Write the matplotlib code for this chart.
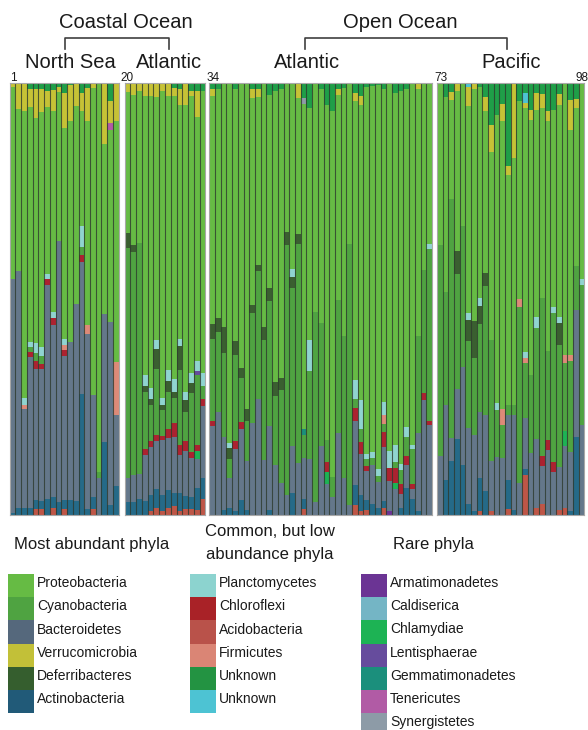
import matplotlib
matplotlib.use("Agg")
import matplotlib.pyplot as plt
import numpy as np
from matplotlib.patches import Rectangle
from matplotlib.lines import Line2D

plt.rcParams['font.family'] = ['Liberation Sans', 'DejaVu Sans']

# relative abundance (%) per sample
# samples 1-19 North Sea, 20-33 coastal Atlantic, 34-72 open Atlantic, 73-98 Pacific
acido = [0, 0, 0, 0, 1.3, 1.3, 0, 1.5, 0, 1.3, 0, 0, 0, 0, 1.4, 0, 0, 0, 0,
         0, 0, 0, 0, 0.9, 1.5, 0.9, 1.5, 1.9, 0.9, 1.4, 1.4, 1.2, 3.7,
         0, 0, 0, 0, 0, 0, 0, 0, 0, 0, 0, 0, 0, 0, 0, 0, 1.4, 0, 0, 0,
         0, 0, 0, 0, 0, 2.2, 0.9, 1.2, 0, 0, 1.5, 0, 0, 0, 0, 0, 0, 0, 0,
         0, 0, 0, 0, 0, 0, 0, 0.9, 0, 0.9, 0, 0, 1.4, 0, 0, 9.3, 0, 1.5, 2.5, 0,
         0, 1.2, 1.5, 0, 0, 0]
actino = [0.5, 1.5, 1.5, 1.5, 2, 1.8, 3.7, 2.7, 2.9, 2.2, 3.5, 3.2, 27.9, 1.4, 2.8, 0, 16.8, 2.3, 6.6,
          2.9, 2.9, 3.7, 3.1, 3.7, 4.5, 3.7, 4.2, 3.1, 4.1, 2.9, 2.6, 4.9, 4.8,
          0, 0, 1.2, 1.5, 0.9, 3.5, 1.2, 0, 0, 0, 1.2, 0, 0, 0, 5, 0, 2.3, 0, 0, 0,
          0, 0, 0, 0, 0, 4.6, 3.7, 2.1, 2.5, 1.5, 1.7, 0, 0, 1.5, 6.3, 3.7, 0.9, 0, 0,
          0, 8.1, 12.4, 17.6, 11.4, 2.5, 0.9, 7.6, 5.6, 0, 0, 0, 6.7, 1.2, 0, 1.4, 0, 0, 0, 0,
          0, 0, 0, 0.9, 17.9, 0]
bacteroidetes = [54, 55, 23, 35, 30.5, 30.6, 49.6, 39.8, 60.4, 33.3, 36.4, 45.5, 30.6, 40.4, 23.5, 8.5, 29.6, 42.3, 16.4,
                 5.7, 6.2, 5.7, 10.7, 11, 11.1, 12.7, 12, 13.1, 8.9, 10.4, 9.1, 6.7, 16.6,
                 20.5, 23.9, 16.8, 6.9, 14.4, 16.4, 11.2, 21.2, 26.9, 12.7, 19.3, 11.4, 7.3, 4.6, 10.8, 12, 9.4, 13, 2.9, 15.8,
                 7.1, 4.2, 18.9, 8.6, 2.2, 15, 9.4, 6.8, 9.1, 6, 12.4, 6.8, 6, 3.2, 5.1, 2.3, 18, 26.6, 20.7,
                 13.5, 17.2, 5.3, 11.6, 22.7, 17.5, 17.5, 15.4, 17.6, 11.6, 13.3, 13.1, 15.1, 21.8, 7.3, 11.7, 14.3, 16.1, 8.7, 15.1,
                 10, 9.8, 14.3, 13.7, 29.6, 20.8]
chloroflexi = [0, 0, 0, 1.3, 1.7, 1.3, 1.3, 1.5, 0, 1.3, 0, 0, 1.7, 0, 0, 0, 0, 0, 0,
               0, 0, 0, 1.5, 1.4, 1.4, 1, 2.2, 3.1, 2.2, 2.3, 1.4, 1.4, 1.8,
               1.2, 0, 0, 0, 1.7, 1.5, 0, 0, 0, 0, 0, 0, 0, 0, 0, 0, 0, 0, 0, 0,
               2.3, 0, 0, 0, 0, 2.9, 2.8, 1.2, 0, 0, 3.6, 3.1, 3.6, 2.3, 2.3, 1.1, 0, 1.5, 1.1,
               0, 0, 0, 0, 0, 0, 0, 0, 0, 0, 0, 0, 0, 0, 0, 0, 0, 0, 2.5, 2.1,
               2.2, 0, 0, 0, 0, 0]
cyanobacteria = [0, 0, 0, 1, 2, 1.8, 0, 0, 0, 0, 0, 0, 1.8, 0, 0, 1.4, 0, 0, 0,
                 53.1, 51.7, 53.5, 13.1, 8.3, 15.3, 5.9, 8.6, 5.8, 17.5, 6.9, 13.7, 16.2, 2.9,
                 18.9, 18.5, 19.5, 4.6, 20.1, 10.3, 9.3, 25.5, 29.5, 27.8, 29.1, 16, 21.6, 57.9, 36.8, 50.7, 5.3, 20.2, 44, 28.6,
                 5, 4.6, 30.9, 32.9, 60.4, 2.2, 3.1, 1.5, 1.5, 1.5, 1.7, 0, 1.4, 3.3, 4.4, 8.2, 22.6, 28.6, 39.8,
                 49, 26.4, 55.4, 26.6, 32.7, 20.3, 17.9, 20.2, 29.7, 28, 11, 7.6, 2.3, 2.3, 40.9, 12.7, 18.1, 25.6, 36.6, 20.7,
                 34.5, 28.4, 15.8, 21, 10, 32.3]
firmicutes = [0, 0, 1, 0, 0, 0, 0, 0, 0, 1.3, 0, 0, 0, 2.2, 0, 0, 0, 0, 12.4,
              0, 0, 0, 0, 0, 0, 0, 0, 0, 0, 0, 0, 0, 0,
              0, 0, 0, 0, 0, 0, 0, 0, 0, 0, 0, 0, 0, 0, 0, 0, 0, 0, 0, 0,
              0, 0, 0, 0, 0, 0, 0, 0, 0, 0, 2.2, 0, 0, 0, 0, 0, 0, 0, 0,
              0, 0, 0, 0, 0, 0, 0, 0, 0, 0, 0, 3.9, 0, 0, 1.8, 1.2, 0, 0, 0, 0,
              0, 0, 1.8, 1.5, 0, 0]
deferribacteres = [0, 0, 0, 0, 0, 0, 0, 0, 0, 0, 0, 0, 0, 0, 0, 0, 0, 0, 0,
                   3.5, 1.7, 0, 1.3, 1.5, 4.6, 1.3, 2.5, 1.5, 5.4, 2.7, 2.3, 0, 0,
                   3.5, 3.2, 5.9, 2.5, 3.1, 2.3, 2.7, 1.9, 1.5, 2.9, 2.9, 3.3, 2.7, 2.9, 2.5, 2.3, 0, 0, 0, 0,
                   0, 0, 0, 0, 0, 0, 0, 0, 0, 0, 0, 0, 0, 0, 0, 0, 0, 0, 0,
                   0, 0, 0, 5.3, 0, 4.9, 8.5, 4.3, 3.1, 0, 0, 0, 0, 0, 0, 0, 0, 0, 0, 0,
                   0, 5, 0, 0, 0, 0]
planctomycetes = [0, 0, 1.5, 1.2, 2.3, 2, 1.2, 1.4, 0, 1.2, 0, 0, 4.8, 0, 0, 0, 0, 0, 0,
                  0, 0, 0, 2.7, 2.6, 2.1, 1.5, 2.5, 2.9, 1.7, 1.9, 2.3, 2.2, 3.1,
                  0, 0, 0, 1.2, 0, 0, 0, 0, 0, 0, 0, 0, 0, 0, 1.8, 0, 0, 7.3, 0, 0,
                  0, 0, 0, 0, 0, 4.2, 6.7, 1.3, 1.5, 1.5, 3.1, 3.9, 3.9, 1.5, 2.1, 0.9, 0, 0, 1.1,
                  0, 0, 0, 0, 0, 1.5, 0, 1.9, 0, 0, 1.5, 0, 0, 0, 0, 1.4, 0, 2.7, 0, 0,
                  1.3, 1.3, 0, 0, 0, 1.5]
proteobacteria = [44.5, 37.5, 66.5, 54.5, 52, 54.5, 38.6, 46.6, 34.6, 49, 51.3, 45.9, 26.7, 47.1, 71.1, 90.1, 39.5, 44.6, 55.7,
                  32.7, 34.8, 35.3, 64.5, 67.5, 56.2, 71.1, 63.4, 65.5, 54.2, 66.3, 64.3, 56.5, 65.2,
                  52.9, 53.1, 56.6, 83.3, 58.3, 66, 75.6, 48, 38.8, 56.6, 44.8, 67.5, 66.9, 34.6, 43.1, 31.5, 75.2, 53.6, 53.1, 54.1,
                  77.7, 84.6, 47.5, 57.3, 37.4, 64.8, 68.2, 84.9, 84.6, 89, 72.3, 85.3, 81.5, 86.4, 78.3, 83.8, 57.2, 43.3, 37.3,
                  37.5, 45, 23, 37.1, 33.2, 47.9, 53.7, 48.7, 37.5, 43.5, 66.7, 66.5, 53.3, 57.3, 45.8, 56.5, 59.1, 47.9, 44, 53.2,
                  45.8, 49.2, 63.1, 52.1, 36.7, 45.4]
verrucomicrobia = [1, 6, 6.5, 4, 6.7, 5.2, 3.8, 4.8, 1.2, 8.1, 8.3, 5.4, 4.2, 7.7, 1.2, 0, 14.1, 5.2, 8.9,
                   2.1, 2.7, 1.8, 3.1, 3.1, 3.3, 1.9, 3.1, 1.9, 3.6, 5.2, 1.1, 6, 0,
                   1.5, 0, 0, 0, 0, 0, 0, 1.9, 1.8, 0, 0, 0, 0, 0, 0, 3.5, 0, 0, 0, 0,
                   0, 0, 1.4, 0, 0, 1.8, 2.1, 0, 0, 0, 0, 0, 0, 0, 0, 0, 1.3, 0, 0,
                   0, 0, 1.8, 1.8, 0, 4.4, 1.5, 0, 3.2, 6.2, 0, 4, 1.9, 17.4, 0, 1.2, 2.3, 3.9, 3.2, 2.5,
                   0, 2.6, 0, 6.9, 2.2, 0]
unknown_green = [0, 0, 0, 1.5, 1.5, 1.5, 1.8, 1.7, 0.9, 2.3, 0.5, 0, 2.3, 1.2, 0, 0, 0, 4.1, 0,
                 0, 0, 0, 0, 0, 0, 0, 0, 1.2, 1.5, 0, 1.8, 1.9, 1.9,
                 1.5, 1.3, 0, 0, 1.5, 0, 0, 1.5, 1.5, 0, 2.7, 1.8, 1.5, 0, 0, 0, 3.5, 5.9, 0, 1.5,
                 5, 6.6, 1.3, 1.2, 0, 2.3, 3.1, 1, 0.8, 0.5, 1.5, 0, 2.3, 1.8, 1.5, 0, 0, 0, 0,
                 0, 3.3, 2.1, 0, 0, 0, 0, 1, 3.3, 9.8, 7.5, 4.9, 19.3, 0, 4.2, 2.3, 6.2, 2.3, 2.5, 6.4,
                 6.2, 2.5, 0, 3.9, 3.6, 0]

# rare phyla, only in a few samples {sample: %}
armatimonadetes = {65: 0.9}
chlamydiae = {32: 1.9, 54: 2.9, 66: 1.3, 95: 3.5}
gemmatimonadetes = {50: 1.5}
lentisphaerae = {32: 1.1}
tenericutes = {18: 1.5}
synergistetes = {50: 1.4}
unknown_cyan = {78: 1.0, 88: 2.3}

samples = np.arange(1, 99)


def full(d):
    arr = np.zeros(len(samples))
    for k, v in d.items():
        arr[k - 1] = v
    return arr


# stacking order bottom -> top
layers = [
    (acido, '#BE5647'),
    (full(armatimonadetes), '#6B3494'),
    (actino, '#256A88'),
    (bacteroidetes, '#64778A'),
    (full(chlamydiae), '#1DB354'),
    (chloroflexi, '#AC2230'),
    (cyanobacteria, '#4FA341'),
    (full(gemmatimonadetes), '#1B8F7C'),
    (firmicutes, '#DD8A78'),
    (full(lentisphaerae), '#664C9D'),
    (deferribacteres, '#3A5F30'),
    (planctomycetes, '#90D4D0'),
    (proteobacteria, '#66BB44'),
    (full(tenericutes), '#B15BA5'),
    (full(synergistetes), '#8D9BA7'),
    (verrucomicrobia, '#C6C236'),
    (full(unknown_cyan), '#4CC3D3'),
    (unknown_green, '#1F9E48'),
]
values = np.array([np.asarray(v, dtype=float) for v, _ in layers])
values = values / values.sum(axis=0) * 100

W, H = 588, 730
fig = plt.figure(figsize=(W / 100, H / 100), dpi=100)


def fx(px):
    return px / W


def fy(py):
    return 1 - py / H


top, bottom = 83, 514.7
panels = [(1, 19, 9.7, 118.7), (20, 33, 124.7, 205.3), (34, 72, 209.3, 432.0), (73, 98, 437.0, 584.3)]

for first, last, x0, x1 in panels:
    ax = fig.add_axes([fx(x0), fy(bottom), fx(x1) - fx(x0), (bottom - top) / H])
    sel = (samples >= first) & (samples <= last)
    base = np.zeros(sel.sum())
    for (v, color), row in zip(layers, values):
        ax.bar(samples[sel], row[sel], bottom=base, width=1.0, color=color, linewidth=0)
        base += row[sel]
    # thin dark separators between samples
    ax.vlines(np.arange(first + 0.5, last), 0, 100, color='#2e3a2e', lw=0.8, alpha=0.8)
    ax.set_xlim(first - 0.5, last + 0.5)
    ax.set_ylim(0, 100)
    ax.set_xticks([])
    ax.set_yticks([])
    for s in ax.spines.values():
        s.set_color('#a8a8a8')
        s.set_linewidth(0.8)

# headings and brackets
head = dict(fontsize=14.5, color='#1a1a1a', ha='center', va='center')
fig.text(fx(125.5), fy(23), 'Coastal Ocean', **head)
fig.text(fx(400), fy(23), 'Open Ocean', **head)
fig.text(fx(70), fy(62), 'North Sea', **head)
fig.text(fx(169.5), fy(62), 'Atlantic', **head)
fig.text(fx(307), fy(62), 'Atlantic', **head)
fig.text(fx(511), fy(62), 'Pacific', **head)

for xa, xb in [(65, 169), (305, 507)]:
    fig.add_artist(Line2D([fx(xa), fx(xa), fx(xb), fx(xb)], [fy(49), fy(38), fy(38), fy(49)],
                          transform=fig.transFigure, color='#404040', lw=1.2))

num = dict(fontsize=8.5, color='#1a1a1a', va='baseline')
fig.text(fx(10), fy(81), '1', ha='left', **num)
fig.text(fx(120), fy(81), '20', ha='left', **num)
fig.text(fx(207), fy(81), '34', ha='left', **num)
fig.text(fx(434), fy(81), '73', ha='left', **num)
fig.text(fx(588), fy(81), '98', ha='right', **num)

# legend
legend_cols = [
    (8.3, ['Most abundant phyla'],
     [('Proteobacteria', '#66BB44'), ('Cyanobacteria', '#4FA341'), ('Bacteroidetes', '#55687C'),
      ('Verrucomicrobia', '#C2C038'), ('Deferribacteres', '#355E2E'), ('Actinobacteria', '#215A78')]),
    (190, ['Common, but low', 'abundance phyla'],
     [('Planctomycetes', '#8CD3CF'), ('Chloroflexi', '#A92227'), ('Acidobacteria', '#B9524A'),
      ('Firmicutes', '#DA8575'), ('Unknown', '#239342'), ('Unknown', '#4DC3D3')]),
    (361, ['Rare phyla'],
     [('Armatimonadetes', '#6B3494'), ('Caldiserica', '#74B5C5'), ('Chlamydiae', '#1DB354'),
      ('Lentisphaerae', '#664C9D'), ('Gemmatimonadetes', '#1B8F7C'), ('Tenericutes', '#B15BA5'),
      ('Synergistetes', '#8D9BA7')]),
]
header_x = [91.5, 270, 433]
row_h, patch_w, y0 = 23.2, 26, 574

for (px, header, items), hx in zip(legend_cols, header_x):
    if len(header) == 1:
        fig.text(fx(hx), fy(545), header[0], fontsize=12, color='#1a1a1a', ha='center', va='center')
    else:
        fig.text(fx(hx), fy(532), header[0], fontsize=12, color='#1a1a1a', ha='center', va='center')
        fig.text(fx(hx), fy(554), header[1], fontsize=12, color='#1a1a1a', ha='center', va='center')
    for i, (label, color) in enumerate(items):
        ytop = y0 + i * row_h
        fig.add_artist(Rectangle((fx(px), fy(ytop + row_h)), patch_w / W, row_h / H,
                                 transform=fig.transFigure, facecolor=color, edgecolor='none'))
        fig.text(fx(px + patch_w + 3), fy(ytop + row_h / 2 - 2.5), label, fontsize=10,
                 color='#1a1a1a', ha='left', va='center')

fig.savefig('out.png', dpi=100)
